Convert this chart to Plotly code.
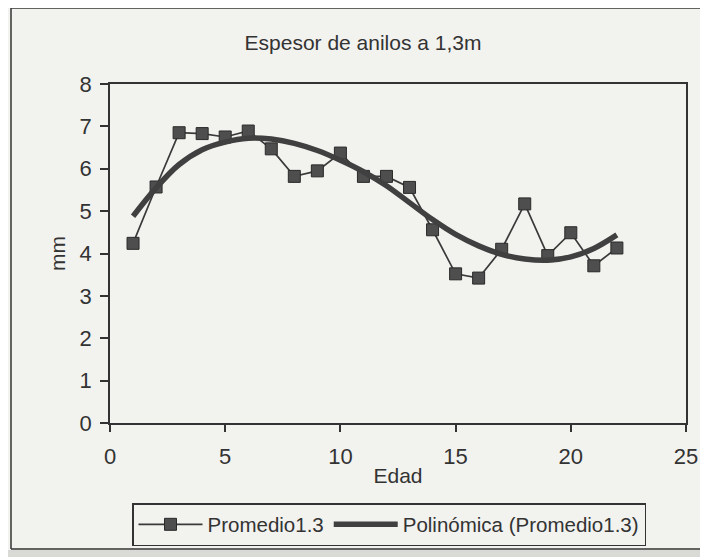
import plotly.graph_objects as go

edad = list(range(1, 23))
promedio = [4.24, 5.57, 6.85, 6.83, 6.75, 6.89, 6.47, 5.82, 5.95, 6.37, 5.82,
            5.82, 5.56, 4.56, 3.52, 3.42, 4.10, 5.17, 3.95, 4.49, 3.71, 4.13]
polinomica = [4.88, 5.55, 6.10, 6.45, 6.63, 6.72, 6.70, 6.60, 6.43, 6.20, 5.93,
              5.60, 5.20, 4.80, 4.45, 4.18, 3.98, 3.87, 3.84, 3.92, 4.12, 4.44]

x_ticks = [0, 5, 10, 15, 20, 25]
y_ticks = [0, 1, 2, 3, 4, 5, 6, 7, 8]

FONT = "Liberation Sans, Arial, sans-serif"
INK = "#333333"
BG = "#f2f2ef"

# page has an 8px body margin; figure pixel = reference pixel - 8
W, H = 700, 549
L, R, T, B = 102, 22, 76, 134
PW, PH = W - L - R, H - T - B


def px(xr):
    return (xr - 8 - L) / PW


def py(yr):
    return (H - B - (yr - 8)) / PH


fig = go.Figure()
fig.add_trace(go.Scatter(
    x=edad, y=promedio, mode="lines+markers", name="Promedio1.3",
    line=dict(color="#3a3a3a", width=1.7),
    marker=dict(symbol="square", size=12, color="#4e4e4e",
                line=dict(color="#2a2a2a", width=1)),
))
fig.add_trace(go.Scatter(
    x=edad, y=polinomica, mode="lines", name="Polinómica (Promedio1.3)",
    line=dict(color="#404040", width=5.5, shape="spline", smoothing=1.0),
))

fig.update_layout(
    width=W, height=H,
    margin=dict(l=L, r=R, t=T, b=B, autoexpand=False),
    paper_bgcolor=BG, plot_bgcolor=BG,
    font=dict(family=FONT, size=21, color=INK),
    title=dict(text="Espesor de anilos a 1,3m", x=px(363), xref="paper",
               xanchor="center", y=1 - (43 - 8) / H, yref="container",
               yanchor="middle", font=dict(size=21, color=INK)),
    showlegend=True,
    legend=dict(orientation="h", x=px(132), xanchor="left", y=py(503),
                yanchor="top", bgcolor=BG, bordercolor="#333333",
                borderwidth=1.5, font=dict(size=20.5, color=INK),
                itemwidth=64, tracegroupgap=0),
    xaxis=dict(range=[0, 25], tickvals=x_ticks, showgrid=False,
               zeroline=False, showline=True, linecolor="#333333",
               linewidth=1.5, mirror=True, ticks="outside", ticklen=7,
               tickwidth=1.5, tickcolor="#333333", ticklabelstandoff=6,
               tickfont=dict(size=22),
               title=dict(text="Edad", standoff=0, font=dict(size=21))),
    yaxis=dict(range=[0, 8], tickvals=y_ticks, showgrid=False,
               zeroline=False, showline=True, linecolor="#333333",
               linewidth=1.5, mirror=True, ticks="outside", ticklen=8,
               tickwidth=1.5, tickcolor="#333333", ticklabelstandoff=4,
               tickfont=dict(size=22),
               title=dict(text="mm", standoff=8, font=dict(size=21))),
    shapes=[
        dict(type="line", xref="paper", yref="paper", x0=px(11), x1=px(11),
             y0=py(8), y1=py(549), line=dict(color="#333333", width=1.5)),
        dict(type="line", xref="paper", yref="paper", x0=px(11), x1=1.2,
             y0=py(8), y1=py(8), line=dict(color="#333333", width=1.5)),
        dict(type="line", xref="paper", yref="paper", x0=px(11), x1=1.2,
             y0=py(549), y1=py(549), line=dict(color="#333333", width=1.5)),
        dict(type="rect", xref="paper", yref="paper", x0=-0.3, x1=1.2,
             y0=py(550), y1=py(570), fillcolor="#d9d9d6",
             line=dict(width=0), layer="below"),
    ],
)

fig.write_html("out.html")
